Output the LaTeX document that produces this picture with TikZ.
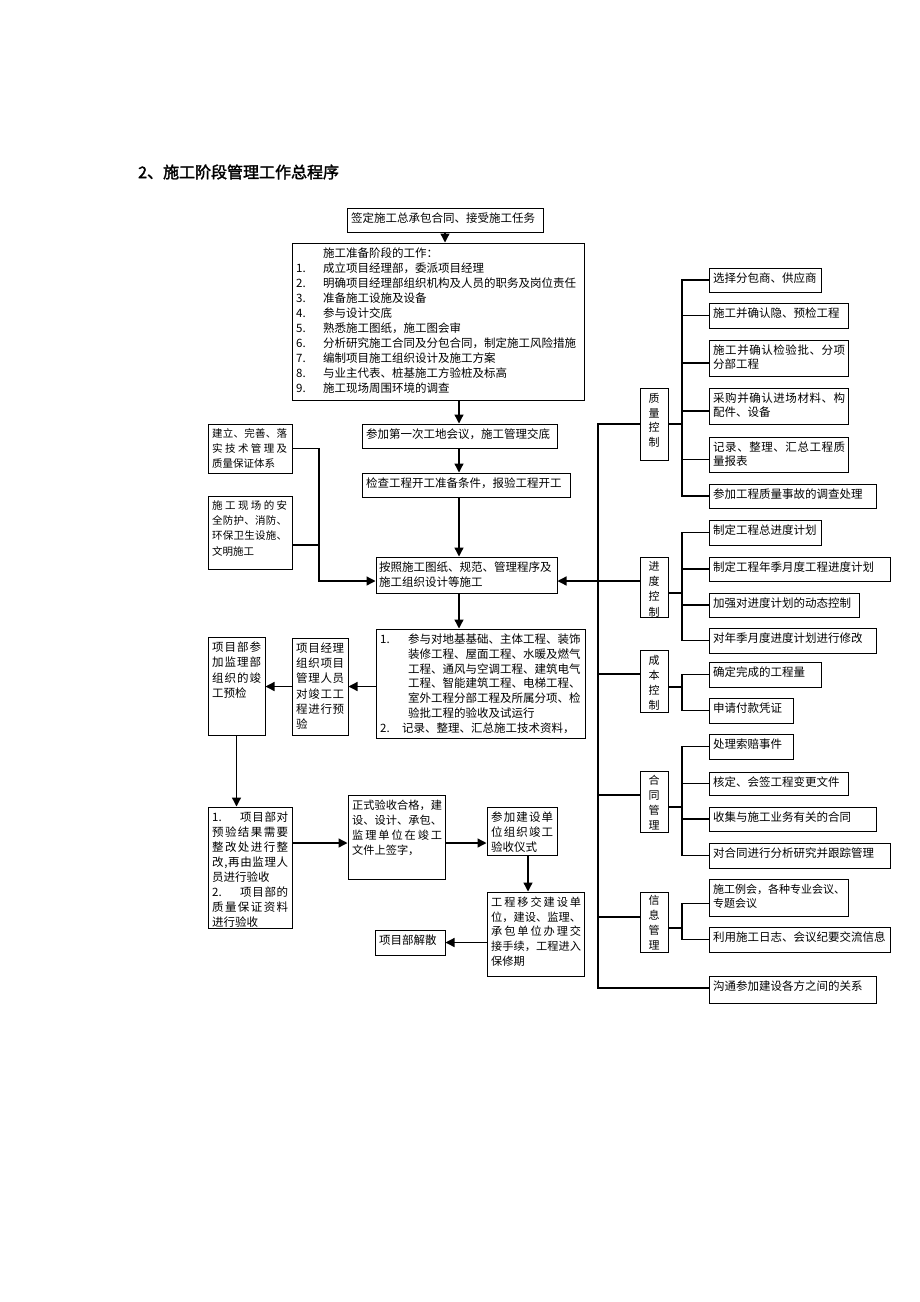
\documentclass[tikz,border=0pt]{standalone}
\usepackage{fontspec}
\setmainfont{Noto Sans CJK SC}[AutoFakeBold=2]
\usetikzlibrary{arrows.meta,fit}
\newcommand\jl[2]{\makebox[#1][s]{\jlfirst#2\jlend}}
\def\jlend{}
\def\jlfirst#1{#1\jlnext}
\def\jlnext#1{\ifx\jlend#1\else\hfil#1\expandafter\jlnext\fi}
\newcommand\tb[7][]{%
  \node[bx, fit={(#3,#4) (#5,#6)}] (#2) {};
  \node[tx,#1] (#2-t) at (#3+4,#4+4.5) {#7};}
\tikzset{
  bx/.style={draw, rectangle, line width=1pt, inner sep=0pt},
  tx/.style={inner sep=0pt, anchor=north west, align=left, font=\fontsize{11.5}{15}\selectfont},
  rt/.style={font=\fontsize{11.5}{14.5}\selectfont},
  vx/.style={inner sep=0pt, anchor=north, align=center, font=\fontsize{11}{15}\selectfont},
  ln/.style={line width=1.3pt},
  arr/.style={line width=1.3pt, -{Triangle[length=9pt,width=9pt]}},
}
\begin{document}
\begin{tikzpicture}[x=1pt,y=-1pt]
\fill[white] (0,0) rectangle (920,1302);
\useasboundingbox (0,0) rectangle (920,1302);

\node[anchor=west, inner sep=0pt, font=\fontsize{16}{16}\selectfont\bfseries] (title) at (138,172) {2、施工阶段管理工作总程序};

% main column
\tb{b1}{347}{208}{543}{232}{签定施工总承包合同、接受施工任务}
\tb[]{b2}{292}{243}{584}{400}{\hspace*{27pt}施工准备阶段的工作：\\
\makebox[27pt][l]{1.}成立项目经理部，委派项目经理\\
\makebox[27pt][l]{2.}明确项目经理部组织机构及人员的职务及岗位责任\\
\makebox[27pt][l]{3.}准备施工设施及设备\\
\makebox[27pt][l]{4.}参与设计交底\\
\makebox[27pt][l]{5.}熟悉施工图纸，施工图会审\\
\makebox[27pt][l]{6.}分析研究施工合同及分包合同，制定施工风险措施\\
\makebox[27pt][l]{7.}编制项目施工组织设计及施工方案\\
\makebox[27pt][l]{8.}与业主代表、桩基施工方验桩及标高\\
\makebox[27pt][l]{9.}施工现场周围环境的调查}
\tb{b3}{362}{424}{557}{448}{参加第一次工地会议，施工管理交底}
\tb{b4}{362}{473}{570}{497}{检查工程开工准备条件，报验工程开工}
\tb[xshift=-1pt]{b5}{376}{557}{557}{593}{按照施工图纸、规范、管理程序及\\施工组织设计等施工}
\tb[font=\fontsize{10.5}{15}\selectfont]{A}{208}{424}{292}{473}{\jl{75pt}{建立、完善、落}\\\jl{75pt}{实技术管理及}\\质量保证体系}
\tb[font=\fontsize{10.5}{15.2}\selectfont]{B}{208}{496}{292}{569}{\jl{75pt}{施工现场的安}\\\jl{75pt}{全防护、消防、}\\\jl{75pt}{环保卫生设施、}\\文明施工}
\tb[font=\fontsize{11.5}{14.8}\selectfont]{b6}{376}{629}{585}{738}{\makebox[28pt][l]{1.}参与对地基基础、主体工程、装饰\\
\hspace*{28pt}装修工程、屋面工程、水暖及燃气\\
\hspace*{28pt}工程、通风与空调工程、建筑电气\\
\hspace*{28pt}工程、智能建筑工程、电梯工程、\\
\hspace*{28pt}室外工程分部工程及所属分项、检\\
\hspace*{28pt}验批工程的验收及试运行\\
\makebox[22pt][l]{2.}记录、整理、汇总施工技术资料，}
\tb[font=\fontsize{11.5}{15.3}\selectfont]{b7}{292}{638}{348}{735}{\jl{48pt}{项目经理}\\\jl{48pt}{组织项目}\\\jl{48pt}{管理人员}\\\jl{48pt}{对竣工工}\\\jl{48pt}{程进行预}\\验}
\tb[font=\fontsize{11.5}{15.3}\selectfont]{b8}{208}{637}{265}{735}{\jl{49pt}{项目部参}\\\jl{49pt}{加监理部}\\\jl{49pt}{组织的竣}\\工预检}
\tb{b9}{208}{807}{292}{928}{\makebox[28pt][l]{1.}\jl{48pt}{项目部对}\\\jl{76pt}{预验结果需要}\\\jl{76pt}{整改处进行整}\\\jl{76pt}{改,再由监理人}\\员进行验收\\\makebox[28pt][l]{2.}\jl{48pt}{项目部的}\\\jl{76pt}{质量保证资料}\\进行验收}
\tb[font=\fontsize{11.2}{15}\selectfont]{b10}{348}{795}{445}{879}{\jl{90pt}{正式验收合格，建}\\\jl{90pt}{设、设计、承包、}\\\jl{90pt}{监理单位在竣工}\\文件上签字，}
\tb{b11}{487}{807}{557}{855}{\jl{62pt}{参加建设单}\\\jl{62pt}{位组织竣工}\\验收仪式}
\tb[font=\fontsize{11.2}{14.8}\selectfont]{b12}{487}{892}{584}{976}{\jl{90pt}{工程移交建设单}\\\jl{90pt}{位，建设、监理、}\\\jl{90pt}{承包单位办理交}\\\jl{90pt}{接手续，工程进入}\\保修期}
\tb{b13}{375}{930}{445}{955}{项目部解散}

% right side labels
\node[bx, fit={(640,388) (668,460)}] (Q) {};
\node[vx, font=\fontsize{11}{14.7}\selectfont] (Q-t) at (654,393) {质\\量\\控\\制};
\node[bx, fit={(640,557) (668,617)}] (P) {};
\node[vx, font=\fontsize{11}{15.3}\selectfont] (P-t) at (654,561) {进\\度\\控\\制};
\node[bx, fit={(640,650) (668,712)}] (C) {};
\node[vx] (C-t) at (654,655) {成\\本\\控\\制};
\node[bx, fit={(640,771) (668,832)}] (H) {};
\node[vx] (H-t) at (654,775) {合\\同\\管\\理};
\node[bx, fit={(640,892) (668,952)}] (I) {};
\node[vx] (I-t) at (654,895) {信\\息\\管\\理};

% right children
\tb[rt]{c1}{709}{268}{821}{292}{选择分包商、供应商}
\tb[rt]{c2}{709}{303}{848}{328}{施工并确认隐、预检工程}
\tb[rt]{c3}{709}{340}{848}{376}{\jl{132pt}{施工并确认检验批、分项}\\分部工程}
\tb[rt]{c4}{709}{388}{848}{424}{\jl{132pt}{采购并确认进场材料、构}\\配件、设备}
\tb[rt]{c5}{709}{437}{848}{472}{\jl{132pt}{记录、整理、汇总工程质}\\量报表}
\tb[rt]{c6}{709}{484}{876}{508}{参加工程质量事故的调查处理}
\tb[rt]{d1}{709}{520}{821}{545}{制定工程总进度计划}
\tb[rt]{d2}{709}{557}{890}{581}{制定工程年季月度工程进度计划}
\tb[rt]{d3}{709}{593}{859}{617}{加强对进度计划的动态控制}
\tb[rt]{d4}{709}{628}{876}{653}{对年季月度进度计划进行修改}
\tb[rt]{e1}{709}{662}{821}{687}{确定完成的工程量}
\tb[rt]{e2}{709}{698}{793}{723}{申请付款凭证}
\tb[rt]{f1}{709}{734}{793}{759}{处理索赔事件}
\tb[rt]{f2}{709}{772}{848}{795}{核定、会签工程变更文件}
\tb[rt]{f3}{709}{807}{876}{831}{收集与施工业务有关的合同}
\tb[rt]{f4}{709}{843}{890}{868}{对合同进行分析研究并跟踪管理}
\tb[font=\fontsize{11}{14.5}\selectfont]{g1}{709}{879}{848}{916}{\jl{132pt}{施工例会，各种专业会议、}\\专题会议}
\tb[rt]{g2}{709}{927}{890}{952}{利用施工日志、会议纪要交流信息}
\tb[rt]{h}{709}{976}{876}{1003}{沟通参加建设各方之间的关系}

% main column connectors
\coordinate (sp) at (459,0);
\draw[arr] (b1.south) -- (b1.south |- b2.north);
\draw[arr] (sp |- b2.south) -- (sp |- b3.north);
\draw[arr] (sp |- b3.south) -- (sp |- b4.north);
\draw[arr] (sp |- b4.south) -- (sp |- b5.north);
\draw[arr] (sp |- b5.south) -- (sp |- b6.north);
\draw[arr] (b6.west |- b7.east) -- (b7.east);
\draw[arr] (b7.west) -- (b7.west -| b8.east);
\draw[arr] (b8.south) -- (b8.south |- b9.north);
\coordinate (r1) at (0,843);
\draw[arr] (b9.east |- r1) -- (b10.west |- r1);
\draw[arr] (b10.east |- r1) -- (b11.west |- r1);
\coordinate (r2) at (528,0);
\draw[arr] (r2 |- b11.south) -- (r2 |- b12.north);
\draw[arr] (b12.west |- b13.east) -- (b13.east);

% left feeders
\coordinate (lj) at (319,581);
\coordinate (lb) at (319,545);
\draw[arr] (A.east) -| (lj) -- (lj -| b5.west);
\draw[ln] (lb -| B.east) -- (lb);

% right spine
\coordinate (mt) at (598,424);
\coordinate (mb) at (598,988);
\coordinate (m2) at (598,581);
\coordinate (m3) at (598,674);
\coordinate (m4) at (598,795);
\coordinate (m5) at (598,917);
\draw[ln] (mt -| Q.west) -- (mt) -- (mb) -- (mb -| h.west);
\draw[ln] (m2) -- (m2 -| P.west);
\draw[arr] (m2) -- (m2 -| b5.east);
\draw[ln] (m3) -- (m3 -| C.west);
\draw[ln] (m4) -- (m4 -| H.west);
\draw[ln] (m5) -- (m5 -| I.west);

% buses
\coordinate (qb) at (682,424);
\draw[ln] (qb -| Q.east) -- (qb);
\draw[ln] (qb) |- (c1.west);
\draw[ln] (qb) |- (c2.west);
\draw[ln] (qb) |- ([yshift=-5pt]c3.west);
\draw[ln] (qb) |- ([yshift=-5pt]c4.west);
\draw[ln] (qb) |- ([yshift=-5pt]c5.west);
\draw[ln] (qb) |- (c6.west);

\coordinate (pb) at (682,593);
\draw[ln] (pb -| P.east) -- (pb);
\draw[ln] (pb) |- (d1.west);
\draw[ln] (pb) |- (d2.west);
\draw[ln] (pb) |- (d3.west);
\draw[ln] (pb) |- (d4.west);

\coordinate (cb) at (682,687);
\draw[ln] (cb -| C.east) -- (cb);
\draw[ln] (cb) |- (e1.west);
\draw[ln] (cb) |- (e2.west);

\coordinate (hb) at (682,807);
\draw[ln] (hb -| H.east) -- (hb);
\draw[ln] (hb) |- (f1.west);
\draw[ln] (hb) |- (f2.west);
\draw[ln] (hb) |- (f3.west);
\draw[ln] (hb) |- (f4.west);

\coordinate (ib) at (682,928);
\draw[ln] (ib -| I.east) -- (ib);
\draw[ln] (ib) |- ([yshift=-6pt]g1.west);
\draw[ln] (ib) |- (g2.west);
\end{tikzpicture}
\end{document}
